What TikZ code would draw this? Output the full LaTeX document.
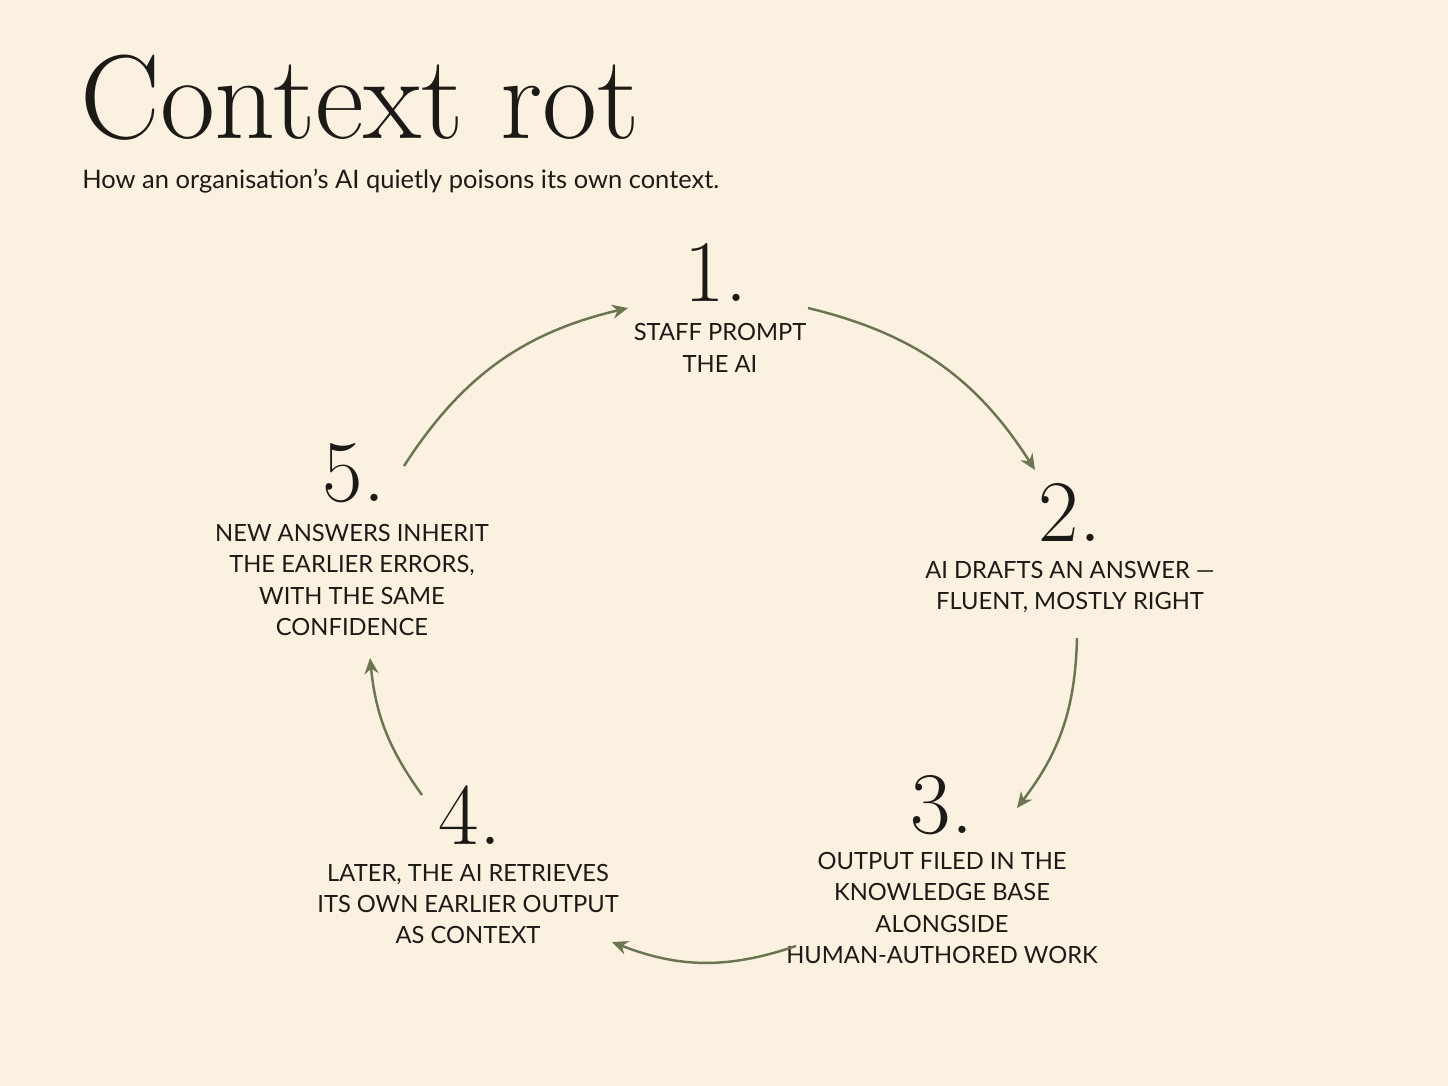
\documentclass[tikz,border=0pt]{standalone}
\usepackage{fontspec}
\setsansfont{Lato}
\usetikzlibrary{arrows.meta, positioning}
\definecolor{paper}{HTML}{FBF1E0}
\definecolor{olive}{HTML}{6B7550}
\definecolor{ink}{HTML}{1C1A17}
\tikzset{
  stepnum/.style={font=\fontsize{50}{50}\selectfont, text=ink, inner sep=0pt},
  steptext/.style={font=\sffamily\fontsize{13.5}{17.8}\selectfont, text=ink, align=center, inner sep=0pt},
  cycle/.style={-{Stealth[length=9pt,width=8pt]}, line width=1.4pt, draw=olive},
}
\begin{document}
\begin{tikzpicture}[x=0.02cm, y=-0.02cm]

    \fill [paper] (0,0) rectangle (1448,1086);
    \useasboundingbox (0,0) rectangle (1448,1086);

    \node [anchor=base west, inner sep=0pt, text=ink, font=\fontsize{68}{68}\selectfont] (title) at (80,138) {Context rot};
    \node [anchor=base west, inner sep=0pt, text=ink, font=\sffamily\fontsize{14.5}{17}\selectfont] (sub) at (82,188) {How an organisation's AI quietly poisons its own context.};

    \node [stepnum] (n1) at (716,272) {1.};
    \node [steptext] (t1) at (720,348) {STAFF PROMPT\\THE AI};
    \node [stepnum] (n2) at (1070,512) {2.};
    \node [steptext] (t2) at (1070,587) {AI DRAFTS AN ANSWER ---\\FLUENT, MOSTLY RIGHT};
    \node [stepnum] (n3) at (942,805) {3.};
    \node [steptext] (t3) at (942,908) {OUTPUT FILED IN THE\\KNOWLEDGE BASE\\ALONGSIDE\\HUMAN-AUTHORED WORK};
    \node [stepnum] (n4) at (470,815) {4.};
    \node [steptext] (t4) at (468,904) {LATER, THE AI RETRIEVES\\ITS OWN EARLIER OUTPUT\\AS CONTEXT};
    \node [stepnum] (n5) at (354,473) {5.};
    \node [steptext] (t5) at (352,580) {NEW ANSWERS INHERIT\\THE EARLIER ERRORS,\\WITH THE SAME\\CONFIDENCE};

    % arc ends
    \coordinate (a1s) at (808,308);  \coordinate (a1e) at (1035,470);
    \coordinate (a2s) at (1077,638); \coordinate (a2e) at (1017,808);
    \coordinate (a3s) at (796,946);  \coordinate (a3e) at (612,942);
    \coordinate (a4s) at (422,795);  \coordinate (a4e) at (370,658);
    \coordinate (a5s) at (404,466);  \coordinate (a5e) at (628,308);

    \draw [cycle] (a1s) to [bend left=22] (a1e);
    \draw [cycle] (a2s) to [bend left=18] (a2e);
    \draw [cycle] (a3s) to [bend left=20] (a3e);
    \draw [cycle] (a4s) to [bend left=15] (a4e);
    \draw [cycle] (a5s) to [bend left=22] (a5e);

\end{tikzpicture}
\end{document}
